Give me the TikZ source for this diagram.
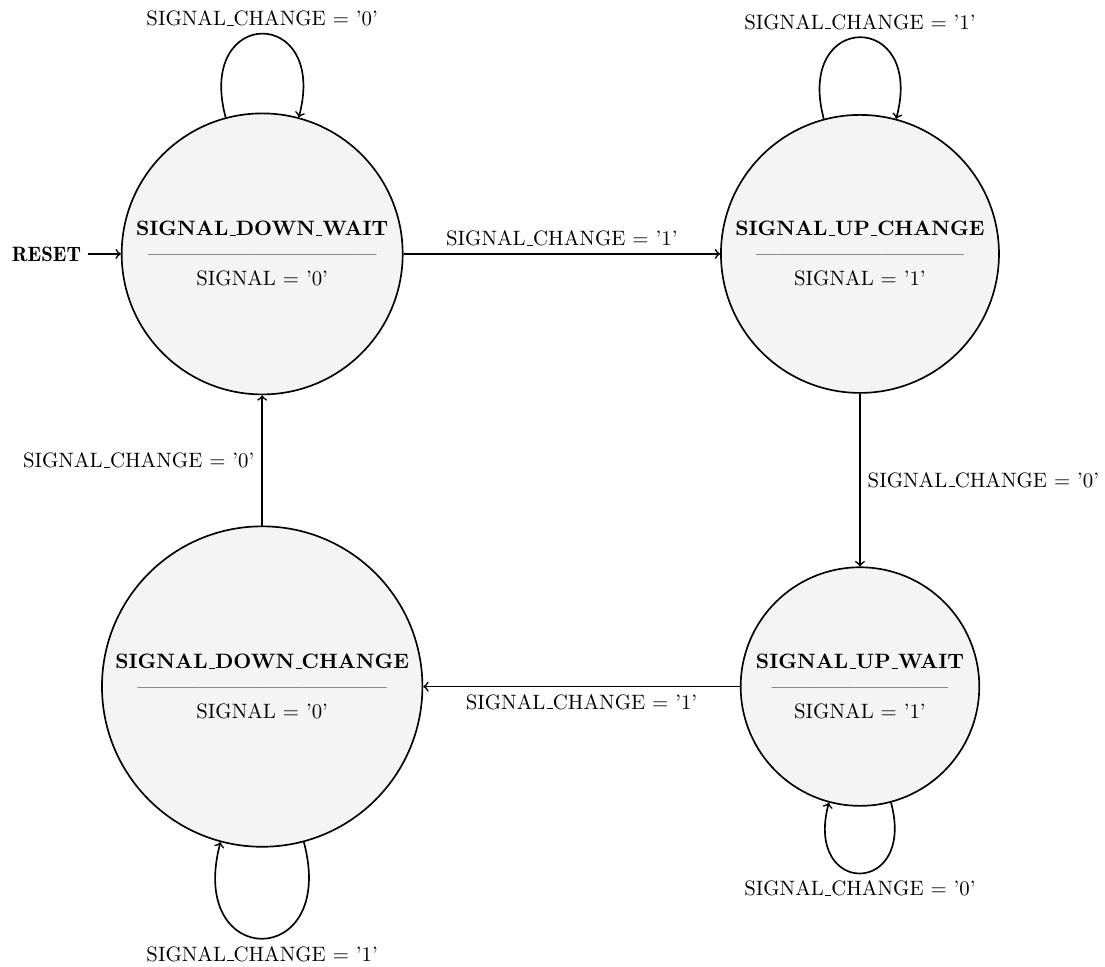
\documentclass[tikz,border=0pt]{standalone}
\usepackage{amsmath}
\usepackage{tikz}
\usetikzlibrary{positioning}

% short underscore as in the old CM fonts
\renewcommand{\_}{\leavevmode\kern.06em\vbox{\hrule width.3em}}
% row of em dashes between state name and output
\newcommand{\dashline}[1]{\foreach \k in {1,...,#1}{---}}

\begin{document}
\begin{tikzpicture}[state/.style={circle,draw,thick,fill=gray!9,align=center,inner sep=4pt},
  trans/.style={->,thick}]
\useasboundingbox (-4.43,-12.04) rectangle (14.24,4.29);
\node[state] (dw) at (0,0) {\textbf{SIGNAL\_DOWN\_WAIT}\\ \dashline{11}\\ SIGNAL = '0'};
\node[state] (uc) at (10.1,0) {\textbf{SIGNAL\_UP\_CHANGE}\\ \dashline{10}\\ SIGNAL = '1'};
\node[state] (uw) at (10.1,-7.31) {\textbf{SIGNAL\_UP\_WAIT}\\ \dashline{8}--\\ SIGNAL = '1'};
\node[state] (dc) at (0,-7.31) {\textbf{SIGNAL\_DOWN\_CHANGE}\\ \dashline{12}\\ SIGNAL = '0'};
\node[left=0.55cm of dw] (reset) {\fontseries{b}\selectfont RESET};

\draw[trans] (reset) -- (dw);
\draw[trans] (dw) -- node[above] {SIGNAL\_CHANGE = '1'} (uc);
\draw[trans] (uc) -- node[right] {SIGNAL\_CHANGE = '0'} (uw);
\draw[trans] (uw) -- node[below] {SIGNAL\_CHANGE = '1'} (dc);
\draw[trans] (dc) -- node[left] {SIGNAL\_CHANGE = '0'} (dw);

% self loops
\draw[trans] (dw) to[loop above,min distance=1.95cm] node[above] {SIGNAL\_CHANGE = '0'} (dw);
\draw[trans] (uc) to[loop above,min distance=1.9cm] node[above] {SIGNAL\_CHANGE = '1'} (uc);
\draw[trans] (uw) to[loop below,min distance=1.65cm] node[below] {SIGNAL\_CHANGE = '0'} (uw);
\draw[trans] (dc) to[loop below,min distance=2.25cm] node[below] {SIGNAL\_CHANGE = '1'} (dc);
\end{tikzpicture}
\end{document}
